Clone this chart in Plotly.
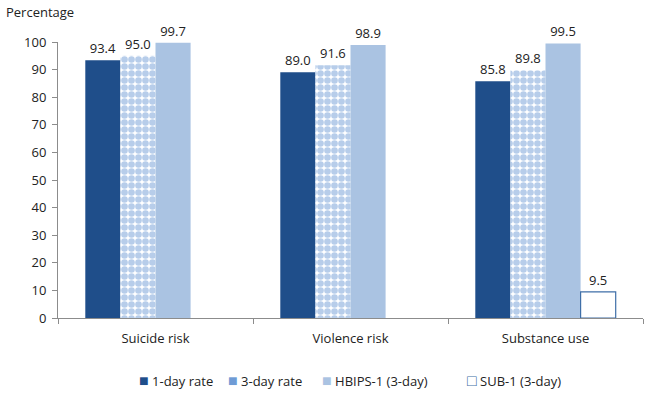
import plotly.graph_objects as go

categories = ['Suicide risk', 'Violence risk', 'Substance use']
one_day = [93.4, 89.0, 85.8]
three_day = [95.0, 91.6, 89.8]
hbips = [99.7, 98.9, 99.5]
sub1 = [None, None, 9.5]

FONT = 'Open Sans'
DARK = '#1F4E8A'
CHECK = '#6F9BD5'
LIGHT = '#AAC3E2'
EDGE = '#3F6FA8'

fig = go.Figure()
fig.add_trace(go.Bar(
    x=categories, y=one_day, name='1-day rate',
    marker=dict(color=DARK, line=dict(width=0)),
    text=[f'{v:.1f}' for v in one_day], textposition='outside',
))
fig.add_trace(go.Bar(
    x=categories, y=three_day, name='3-day rate',
    marker=dict(color='white', line=dict(width=0),
                pattern=dict(shape='.', fgcolor=CHECK, bgcolor='white',
                             size=7, solidity=0.7, fillmode='overlay')),
    text=[f'{v:.1f}' for v in three_day], textposition='outside',
))
fig.add_trace(go.Bar(
    x=categories, y=hbips, name='HBIPS-1 (3-day)',
    marker=dict(color=LIGHT, line=dict(width=0)),
    text=[f'{v:.1f}' for v in hbips], textposition='outside',
))
fig.add_trace(go.Bar(
    x=categories, y=sub1, name='SUB-1 (3-day)',
    marker=dict(color='white', line=dict(color=EDGE, width=1.2)),
    text=['' if v is None else f'{v:.1f}' for v in sub1], textposition='outside',
))

fig.update_traces(textfont=dict(size=13, color='#222222', family=FONT),
                  cliponaxis=False)

# compact legend drawn as text, with small square keys like the original
legend_items = [('1-day rate', '■', DARK, 0.135),
                ('3-day rate', '■', CHECK, 0.287),
                ('HBIPS-1 (3-day)', '■', LIGHT, 0.448),
                ('SUB-1 (3-day)', '□', EDGE, 0.695)]
annotations = [dict(text='Percentage', xref='paper', yref='paper', x=-0.092, y=1.11,
                    xanchor='left', yanchor='middle', showarrow=False,
                    font=dict(size=13))]
for name, key, color, xpos in legend_items:
    annotations.append(dict(
        text=f"<span style='color:{color};font-size:16px'>{key}</span> {name}",
        xref='paper', yref='paper', x=xpos, y=-0.225,
        xanchor='left', yanchor='middle', showarrow=False, font=dict(size=13),
    ))

fig.update_layout(
    width=650, height=393,
    margin=dict(l=58, r=7, t=42, b=75, autoexpand=False),
    barmode='group', bargap=0.28, bargroupgap=0,
    plot_bgcolor='white', paper_bgcolor='white',
    font=dict(family=FONT, size=13, color='#222222'),
    showlegend=False,
    xaxis=dict(showline=True, linecolor='#8C8C8C', linewidth=1, automargin=False,
               ticks='outside', tickson='boundaries', ticklen=5, tickcolor='#8C8C8C',
               ticklabelstandoff=8, tickfont=dict(size=13), showgrid=False),
    yaxis=dict(range=[0, 100], dtick=10, showline=True, linecolor='#8C8C8C', linewidth=1,
               automargin=False, ticks='outside', ticklen=5, tickcolor='#8C8C8C',
               ticklabelstandoff=3, showgrid=False, zeroline=False, tickfont=dict(size=13)),
    annotations=annotations,
)

fig.write_html('out.html', config={'displayModeBar': False},
               post_script="document.body.style.margin='0px';")
